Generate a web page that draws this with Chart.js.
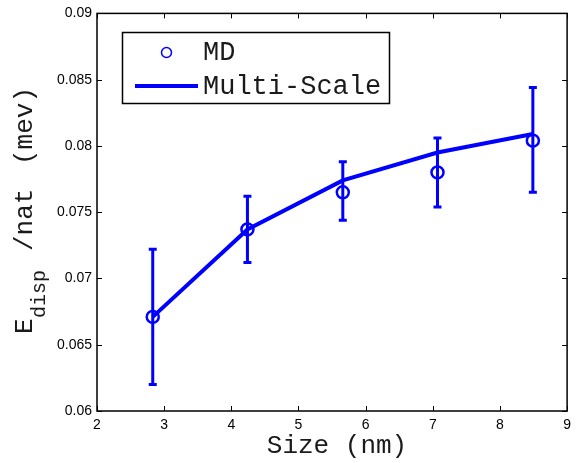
<!DOCTYPE html>
<html>
<head>
<meta charset="utf-8">
<script src="https://cdn.jsdelivr.net/npm/chart.js@4/dist/chart.umd.min.js"></script>
<style>
html,body{margin:0;padding:0;background:#fff;}
#wrap{width:577px;height:463px;position:relative;}
</style>
</head>
<body>
<div id="wrap"><canvas id="c"></canvas></div>
<script>
const sizes = [2.83, 4.24, 5.66, 7.07, 8.49];
const mdValues = [0.0671, 0.0737, 0.0765, 0.0780, 0.0804];
const mdErrLow = [0.0620, 0.0712, 0.0744, 0.0754, 0.0765];
const mdErrHigh = [0.0722, 0.0762, 0.0788, 0.0806, 0.0844];
const multiScaleValues = [0.0671, 0.0737, 0.0774, 0.0795, 0.0809];
const xTickLabels = ['2','3','4','5','6','7','8','9'];
const yTickLabels = ['0.06','0.065','0.07','0.075','0.08','0.085','0.09'];

const BLUE = '#0000ff';
const MONO = '"Liberation Mono", "DejaVu Sans Mono", monospace';
const SANS = '"Liberation Sans", Arial, sans-serif';

const errorBars = {
  id: 'errorBars',
  afterDatasetsDraw(chart) {
    const {ctx, scales: {x, y}} = chart;
    ctx.save();
    ctx.strokeStyle = BLUE;
    ctx.lineWidth = 3;
    for (let i = 0; i < sizes.length; i++) {
      const px = x.getPixelForValue(sizes[i]);
      const lo = y.getPixelForValue(mdErrLow[i]);
      const hi = y.getPixelForValue(mdErrHigh[i]);
      ctx.beginPath();
      ctx.moveTo(px, lo); ctx.lineTo(px, hi);
      ctx.moveTo(px - 4, lo); ctx.lineTo(px + 4, lo);
      ctx.moveTo(px - 4, hi); ctx.lineTo(px + 4, hi);
      ctx.stroke();
    }
    ctx.restore();
  }
};

const frame = {
  id: 'frame',
  afterDraw(chart) {
    const {ctx, chartArea: a, scales: {x, y}} = chart;
    ctx.save();
    ctx.strokeStyle = '#000';
    ctx.lineWidth = 1.5;
    ctx.strokeRect(a.left, a.top, a.right - a.left, a.bottom - a.top);
    ctx.lineWidth = 1;
    ctx.beginPath();
    x.ticks.forEach(t => {
      const px = Math.round(x.getPixelForValue(t.value)) + 0.5;
      ctx.moveTo(px, a.bottom); ctx.lineTo(px, a.bottom - 5);
      ctx.moveTo(px, a.top); ctx.lineTo(px, a.top + 5);
    });
    y.ticks.forEach(t => {
      const py = Math.round(y.getPixelForValue(t.value)) + 0.5;
      ctx.moveTo(a.left, py); ctx.lineTo(a.left + 5, py);
      ctx.moveTo(a.right, py); ctx.lineTo(a.right - 5, py);
    });
    ctx.stroke();

    // Legend box
    ctx.fillStyle = '#fff';
    ctx.fillRect(122, 32, 267, 71);
    ctx.lineWidth = 1.5;
    ctx.strokeRect(122.5, 32.5, 267, 71);
    ctx.strokeStyle = BLUE;
    ctx.lineWidth = 1.5;
    ctx.beginPath();
    ctx.arc(166.5, 52.5, 5, 0, Math.PI * 2);
    ctx.stroke();
    ctx.lineWidth = 4;
    ctx.beginPath();
    ctx.moveTo(135, 86); ctx.lineTo(198, 86);
    ctx.stroke();
    ctx.fillStyle = '#1a1a1a';
    ctx.font = '27px ' + MONO;
    ctx.textBaseline = 'middle';
    ctx.textAlign = 'left';
    ctx.fillText('MD', 203, 53);
    ctx.fillText('Multi-Scale', 203, 87);

    // Axis titles
    ctx.font = '26px ' + MONO;
    ctx.textAlign = 'center';
    ctx.textBaseline = 'alphabetic';
    ctx.fillText('Size (nm)', 337, 453);

    ctx.translate(32, 334);
    ctx.rotate(-Math.PI / 2);
    ctx.textAlign = 'left';
    ctx.font = '26px ' + MONO;
    ctx.fillText('E', 0, 0);
    ctx.font = '20px ' + MONO;
    ctx.fillText('disp', 16, 13);
    ctx.font = '26px ' + MONO;
    ctx.fillText('/nat', 83, 0);
    ctx.fillText('(mev)', 169, 0);
    ctx.restore();
  }
};

new Chart(document.getElementById('c'), {
  type: 'scatter',
  data: {
    datasets: [
      {
        label: 'MD',
        data: sizes.map((s, i) => ({x: s, y: mdValues[i]})),
        showLine: false,
        pointStyle: 'circle',
        pointRadius: 6,
        pointBorderWidth: 2.5,
        pointBorderColor: BLUE,
        pointBackgroundColor: 'rgba(0,0,0,0)',
        order: 0
      },
      {
        label: 'Multi-Scale',
        type: 'line',
        data: sizes.map((s, i) => ({x: s, y: multiScaleValues[i]})),
        borderColor: BLUE,
        borderWidth: 4,
        pointRadius: 0,
        fill: false,
        tension: 0,
        order: 1
      }
    ]
  },
  options: {
    responsive: true,
    maintainAspectRatio: false,
    animation: false,
    layout: {padding: {top: 10, right: 8, left: 0, bottom: 0}},
    plugins: {legend: {display: false}, tooltip: {enabled: false}},
    scales: {
      x: {
        type: 'linear', min: 2, max: 9,
        afterBuildTicks(s) { s.ticks = xTickLabels.map(v => ({value: parseFloat(v)})); },
        afterFit(s) { s.height = 52; },
        grid: {display: false, drawTicks: false},
        border: {display: false},
        ticks: {
          padding: 6, color: '#000', font: {family: SANS, size: 14},
          maxRotation: 0, autoSkip: false,
          callback(v, i) { return xTickLabels[i]; }
        }
      },
      y: {
        type: 'linear', min: 0.06, max: 0.09,
        afterBuildTicks(s) { s.ticks = yTickLabels.map(v => ({value: parseFloat(v)})); },
        afterFit(s) { s.width = 97; },
        grid: {display: false, drawTicks: false},
        border: {display: false},
        ticks: {
          padding: 5, color: '#000', font: {family: SANS, size: 14},
          autoSkip: false,
          callback(v, i) { return yTickLabels[i]; }
        }
      }
    }
  },
  plugins: [errorBars, frame]
});
</script>
</body>
</html>
